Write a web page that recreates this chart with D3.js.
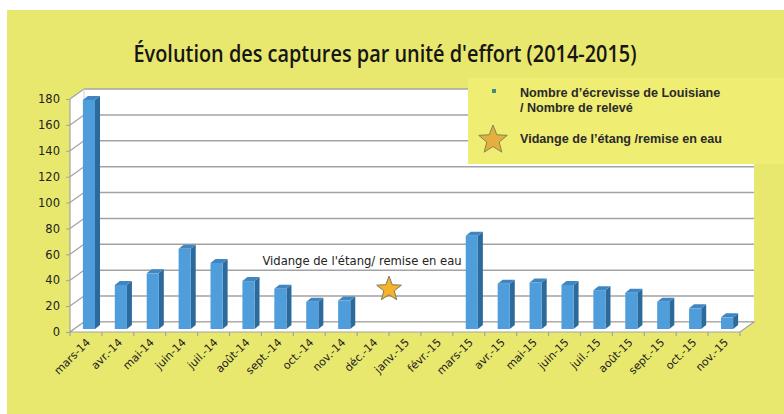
<!DOCTYPE html>
<html>
<head>
<meta charset="utf-8">
<script src="https://cdn.jsdelivr.net/npm/d3@7"></script>
<style>
  html, body { margin: 0; padding: 0; background: #fff; }
  svg { display: block; }
</style>
</head>
<body>
<div id="chart"></div>
<script>
// Data
const months = ['mars-14', 'avr.-14', 'mai-14', 'juin-14', 'juil.-14', 'août-14', 'sept.-14',
  'oct.-14', 'nov.-14', 'déc.-14', 'janv.-15', 'févr.-15', 'mars-15', 'avr.-15', 'mai-15',
  'juin-15', 'juil.-15', 'août-15', 'sept.-15', 'oct.-15', 'nov.-15'];
const cpue = [177, 34, 43, 62, 51, 37, 31, 21, 22, null, null, null, 72, 35, 36, 34, 30, 28, 21, 16, 9];
const yTicks = [0, 20, 40, 60, 80, 100, 120, 140, 160, 180];
const drainMonth = 'janv.-15';
const drainValue = 30;

const width = 784, height = 414;
const svg = d3.select('#chart').append('svg')
    .attr('width', width)
    .attr('height', height);

// background
svg.append('rect').attr('x', 7).attr('y', 10).attr('width', width - 7).attr('height', height - 10)
    .attr('fill', '#e9e86e');

// 3D geometry
const DX = 14, DY = -10;      // depth of the box
const BX = 3, BY = -3;        // bars sit a little behind the front
const SX = 5, SY = -4;        // bar depth

const x = d3.scaleBand().domain(months).range([70, 740]);
const y = d3.scaleLinear().domain([0, 180]).range([332, 99]);
const barW = x.bandwidth() * 0.38;

const grid = '#a3a3a3';

// back wall
svg.append('rect')
    .attr('x', x.range()[0] + DX).attr('y', y(180) + DY)
    .attr('width', x.range()[1] - x.range()[0]).attr('height', y(0) - y(180))
    .attr('fill', '#fff');

// left wall
svg.append('path')
    .attr('d', `M70,${y(0)}L70,${y(180)}L${70 + DX},${y(180) + DY}L${70 + DX},${y(0) + DY}Z`)
    .attr('fill', '#fff');

// back wall gridlines
svg.append('g').selectAll('line').data(yTicks).join('line')
    .attr('x1', 70 + DX).attr('x2', x.range()[1] + DX)
    .attr('y1', d => y(d) + DY).attr('y2', d => y(d) + DY)
    .attr('stroke', grid).attr('stroke-width', 1.5);

// left wall diagonals
svg.append('g').selectAll('line').data(yTicks).join('line')
    .attr('x1', 70).attr('x2', 70 + DX)
    .attr('y1', d => y(d)).attr('y2', d => y(d) + DY)
    .attr('stroke', grid).attr('stroke-width', 1.2);

svg.append('line').attr('x1', 70 + DX).attr('x2', 70 + DX)
    .attr('y1', y(0) + DY).attr('y2', y(180) + DY)
    .attr('stroke', '#d0d0d0').attr('stroke-width', 1);

// floor
svg.append('path')
    .attr('d', `M70,${y(0)}L740,${y(0)}L${740 + DX},${y(0) + DY}L${70 + DX},${y(0) + DY}Z`)
    .attr('fill', '#fff').attr('stroke', grid).attr('stroke-width', 1.2);

// y axis line and labels
svg.append('line').attr('x1', 70).attr('x2', 70).attr('y1', y(0)).attr('y2', y(180))
    .attr('stroke', grid).attr('stroke-width', 1.2);
const yAxis = svg.append('g').attr('transform', 'translate(70,0)')
    .call(d3.axisLeft(y).tickValues(yTicks).tickSize(4).tickPadding(6));
yAxis.select('.domain').remove();
yAxis.selectAll('line').attr('stroke', grid);
yAxis.selectAll('text').attr('font-family', 'DejaVu Sans').attr('font-size', 11.5).attr('fill', '#222');

// x axis ticks and labels
const xAxis = svg.append('g').attr('transform', `translate(0,${y(0)})`);
xAxis.selectAll('line').data(months.concat(['end'])).join('line')
    .attr('x1', (d, i) => x.range()[0] + i * x.step())
    .attr('x2', (d, i) => x.range()[0] + i * x.step())
    .attr('y1', 0).attr('y2', 4)
    .attr('stroke', grid).attr('stroke-width', 1.2);
xAxis.selectAll('text').data(months).join('text')
    .attr('transform', d => `translate(${x(d) + x.bandwidth() / 2 + 5},11) rotate(-45)`)
    .attr('text-anchor', 'end')
    .attr('font-family', 'DejaVu Sans').attr('font-size', 11).attr('fill', '#222')
    .text(d => d);

// bars
const bars = svg.append('g').selectAll('g')
    .data(months.map((m, i) => ({ m, v: cpue[i] })).filter(d => d.v !== null))
    .join('g');
const bx = d => x(d.m) + x.bandwidth() / 2 - barW / 2 + BX;
// side
bars.append('path')
    .attr('d', d => {
      const x0 = bx(d) + barW, yt = y(d.v) + BY, yb = y(0) + BY;
      return `M${x0},${yb}L${x0},${yt}L${x0 + SX},${yt + SY}L${x0 + SX},${yb + SY}Z`;
    })
    .attr('fill', '#2d6a9c');
// top
bars.append('path')
    .attr('d', d => {
      const x0 = bx(d), yt = y(d.v) + BY;
      return `M${x0},${yt}L${x0 + barW},${yt}L${x0 + barW + SX},${yt + SY}L${x0 + SX},${yt + SY}Z`;
    })
    .attr('fill', '#3f86c2');
// front
bars.append('rect')
    .attr('x', bx)
    .attr('y', d => y(d.v) + BY)
    .attr('width', barW)
    .attr('height', d => y(0) - y(d.v))
    .attr('fill', '#4f9ddb');

// star shape
function starPath(cx, cy, r1, r2) {
  const pts = d3.range(10).map(i => {
    const a = -Math.PI / 2 + i * Math.PI / 5;
    const r = i % 2 === 0 ? r1 : r2;
    return [cx + r * Math.cos(a), cy + r * Math.sin(a)];
  });
  return d3.line()(pts) + 'Z';
}

// drain annotation
svg.append('path')
    .attr('d', starPath(x(drainMonth) + BX - 3, y(drainValue) + BY - 1, 13, 5.5))
    .attr('fill', '#f5b22b').attr('stroke', '#7c7a55').attr('stroke-width', 1);
svg.append('text')
    .attr('x', x(drainMonth) - 27).attr('y', 265)
    .attr('text-anchor', 'middle')
    .attr('font-family', 'DejaVu Sans').attr('font-size', 11.6).attr('fill', '#222')
    .text("Vidange de l'étang/ remise en eau");

// legend box
svg.append('rect').attr('x', 468).attr('y', 78).attr('width', width - 468).attr('height', 86)
    .attr('fill', '#efed72');
svg.append('rect').attr('x', 492).attr('y', 89).attr('width', 4).attr('height', 4)
    .attr('fill', '#3c8f7c');
const legendFont = { family: 'Liberation Sans', size: 12.6 };
[["Nombre d’écrevisse de Louisiane", 97], ["/ Nombre de relevé", 112], ["Vidange de l’étang /remise en eau", 143]]
  .forEach(([t, ty]) => {
    svg.append('text').attr('x', 520).attr('y', ty)
        .attr('font-family', legendFont.family).attr('font-size', legendFont.size)
        .attr('font-weight', 'bold').attr('fill', '#2a2a2a')
        .text(t);
  });
svg.append('path')
    .attr('d', starPath(493, 140, 15, 6.5))
    .attr('fill', '#e6ae3e').attr('stroke', '#7d8a4d').attr('stroke-width', 1);

// title
svg.append('text')
    .attr('x', 385).attr('y', 62)
    .attr('text-anchor', 'middle')
    .attr('font-family', 'Open Sans').attr('font-size', 23).attr('font-weight', 600)
    .attr('textLength', 503).attr('lengthAdjust', 'spacingAndGlyphs')
    .attr('fill', '#161616')
    .text("Évolution des captures par unité d'effort (2014-2015)");
</script>
</body>
</html>
